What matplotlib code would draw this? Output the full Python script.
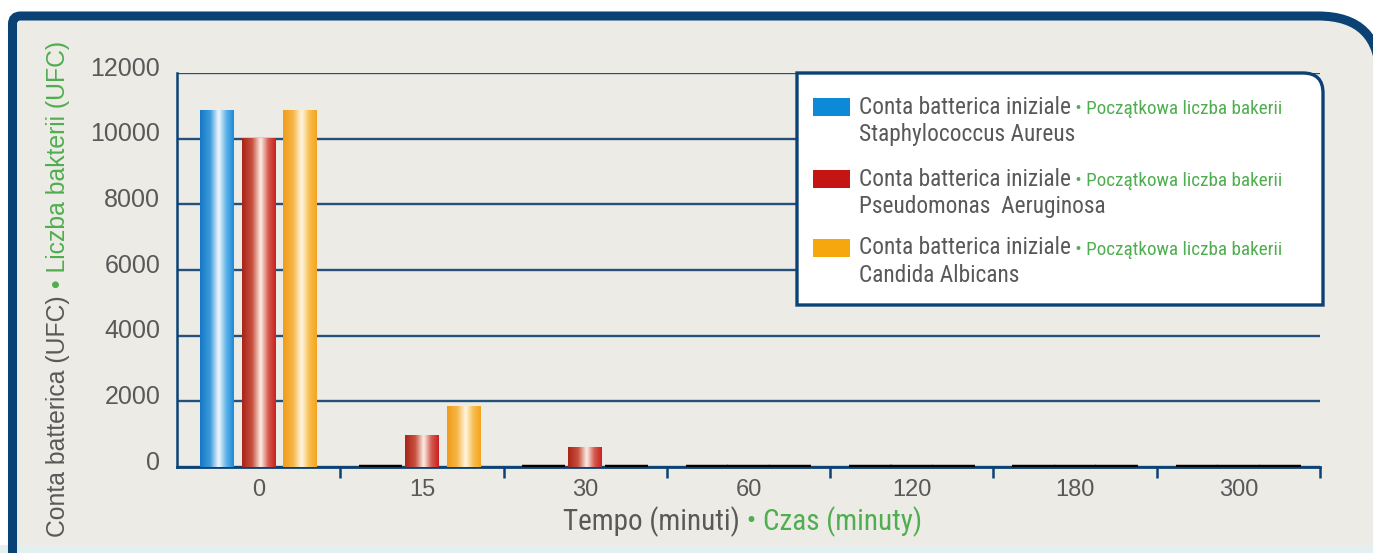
import numpy as np
import matplotlib.pyplot as plt
from matplotlib.colors import LinearSegmentedColormap
from matplotlib.path import Path
from matplotlib.patches import PathPatch, Rectangle
from matplotlib.text import Annotation
from matplotlib.transforms import ScaledTranslation

times = ["0", "15", "30", "60", "120", "180", "300"]
staph = [10850, 0, 0, 0, 0, 0, 0]
pseudo = [10000, 950, 580, 0, 0, 0, 0]
candida = [10850, 1850, 0, 0, 0, 0, 0]
series = [staph, pseudo, candida]

legend_it = "Conta batterica iniziale"
legend_pl = " \u2022 Początkowa liczba bakerii"
species = ["Staphylococcus Aureus", "Pseudomonas  Aeruginosa", "Candida Albicans"]
yticks = [0, 2000, 4000, 6000, 8000, 10000, 12000]

solid = ["#0c8ad8", "#c41414", "#f7a70e"]
ramps = [
    ["#1478c4", "#3d9bdc", "#f2f8fd", "#5cb2e8", "#1a8ad6"],
    ["#a82416", "#c8503e", "#fcefe8", "#d45a4e", "#cc1f1f"],
    ["#f09c18", "#f6b648", "#fff7e4", "#f8bd4c", "#f5a41c"],
]
navy = "#0b4275"
grid_c = "#24507a"
gray = "#595959"
green = "#4fae4f"
narrow = ["Roboto Condensed", "DejaVu Sans Condensed", "Liberation Sans Narrow", "Roboto"]

W, H = 1373, 553


def fp(x, y):
    return (x / W, 1 - y / H)


fig = plt.figure(figsize=(W / 100, H / 100), dpi=100, facecolor="white")

# outer panel, big rounded corner that runs off the right edge
frame = [fp(12.5, 600), fp(12.5, 24), fp(12.5, 16), fp(20.5, 16), fp(1318, 16),
         fp(1380, 16), fp(1380, 78), fp(1380, 600)]
codes = [Path.MOVETO, Path.LINETO, Path.CURVE3, Path.CURVE3, Path.LINETO,
         Path.CURVE3, Path.CURVE3, Path.LINETO]
fig.add_artist(PathPatch(Path(frame, codes), transform=fig.transFigure,
                         facecolor="#edebe6", edgecolor="none", zorder=-3))
fig.add_artist(Rectangle(fp(0, 553), 1, 8 / H, transform=fig.transFigure,
                         facecolor="#e4f0ef", edgecolor="none", zorder=-2))
fig.add_artist(PathPatch(Path(frame, codes), transform=fig.transFigure,
                         facecolor="none", edgecolor=navy, lw=6.5, zorder=-1))

ax = fig.add_axes([177 / W, 1 - 467 / H, (1320 - 177) / W, (467 - 73) / H])
ax.set_facecolor("none")

x = np.arange(len(times))
width = 0.205
step = 0.254
grad = np.linspace(0, 1, 256)[np.newaxis, :]
for k, vals in enumerate(series):
    cmap = LinearSegmentedColormap.from_list(f"g{k}", list(zip([0, 0.3, 0.55, 0.78, 1], ramps[k])))
    bars = ax.bar(x + (k - 1) * step, vals, width, color="none", edgecolor="none")
    for b, v in zip(bars, vals):
        if v > 0:
            ax.imshow(grad, cmap=cmap, aspect="auto", interpolation="bicubic", zorder=3,
                      extent=(b.get_x(), b.get_x() + b.get_width(), 0, b.get_height()))
        else:
            ax.hlines(0, b.get_x() - 0.028, b.get_x() + b.get_width() + 0.028,
                      color="black", lw=3.2, zorder=4)

ax.set_xlim(-0.5, len(times) - 0.5)
ax.set_ylim(0, 12000)
ax.set_yticks(yticks)
ax.set_yticklabels([str(t) for t in yticks], fontsize=18, color=gray, family="Liberation Sans")
ax.tick_params(axis="y", length=0, pad=12)
for lab in ax.get_yticklabels():
    lab.set_transform(lab.get_transform() + ScaledTranslation(0, 5 / 72, fig.dpi_scale_trans))
ax.yaxis.grid(True, color=grid_c, lw=1.7)
ax.set_axisbelow(True)

ax.set_xticks(x + 0.5)
ax.set_xticklabels([])
ax.tick_params(axis="x", which="major", length=8, width=1.8, color=navy, direction="out")
ax.set_xticks(x, minor=True)
ax.set_xticklabels(times, minor=True, fontsize=17, color=gray, family="Liberation Sans")
ax.tick_params(axis="x", which="minor", length=0, pad=9)

for side in ["top", "right"]:
    ax.spines[side].set_visible(False)
ax.spines["left"].set_color(navy)
ax.spines["left"].set_linewidth(1.8)
ax.spines["bottom"].set_color(navy)
ax.spines["bottom"].set_linewidth(2)


def after(anchor, s, xy, **kw):
    # text that continues right after another text, in another colour
    a = Annotation(s, xy=xy, xycoords=anchor, annotation_clip=False, **kw)
    fig.add_artist(a)
    return a


# axis titles, two colours each
tx = fig.text(*fp(563, 522), "Tempo (minuti)", fontsize=21, color=gray,
              family=narrow, ha="left", va="center")
after(tx, " \u2022 Czas (minuty)", (1, 0.5), ha="left", va="center",
      fontsize=21, color=green, family=narrow)

ty = fig.text(*fp(58, 537), "Conta batterica (UFC)", rotation=90, fontsize=17.8, color=gray,
              family="Liberation Sans", ha="center", va="bottom")
after(ty, " \u2022 Liczba bakterii (UFC)", (0.5, 1), rotation=90, ha="center", va="bottom",
      fontsize=17.8, color=green, family="Liberation Sans")

# legend box, square corners except the top-right one
box = [fp(797, 305), fp(797, 73), fp(1303, 73), fp(1323, 73), fp(1323, 93), fp(1323, 305), fp(797, 305)]
bcodes = [Path.MOVETO, Path.LINETO, Path.LINETO, Path.CURVE3, Path.CURVE3, Path.LINETO, Path.CLOSEPOLY]
fig.add_artist(PathPatch(Path(box, bcodes), transform=fig.transFigure,
                         facecolor="white", edgecolor=navy, lw=2.4, zorder=5))

rows = [107, 179, 248]
for k, y in enumerate(rows):
    fig.add_artist(Rectangle(fp(813, y + 9), 37 / W, 18 / H, transform=fig.transFigure,
                             facecolor=solid[k], edgecolor="none", zorder=6))
    t1 = fig.text(*fp(859, y), legend_it, fontsize=16.8, color=gray, family=narrow,
                  ha="left", va="center", zorder=6)
    after(t1, legend_pl, (1, 0.42), ha="left", va="center", fontsize=13.8,
          color=green, family=narrow, zorder=7)
    fig.text(*fp(859, y + 27), species[k], fontsize=16.8, color=gray, family=narrow,
             ha="left", va="center", zorder=6)

fig.savefig("out.png", dpi=100, facecolor="white")
